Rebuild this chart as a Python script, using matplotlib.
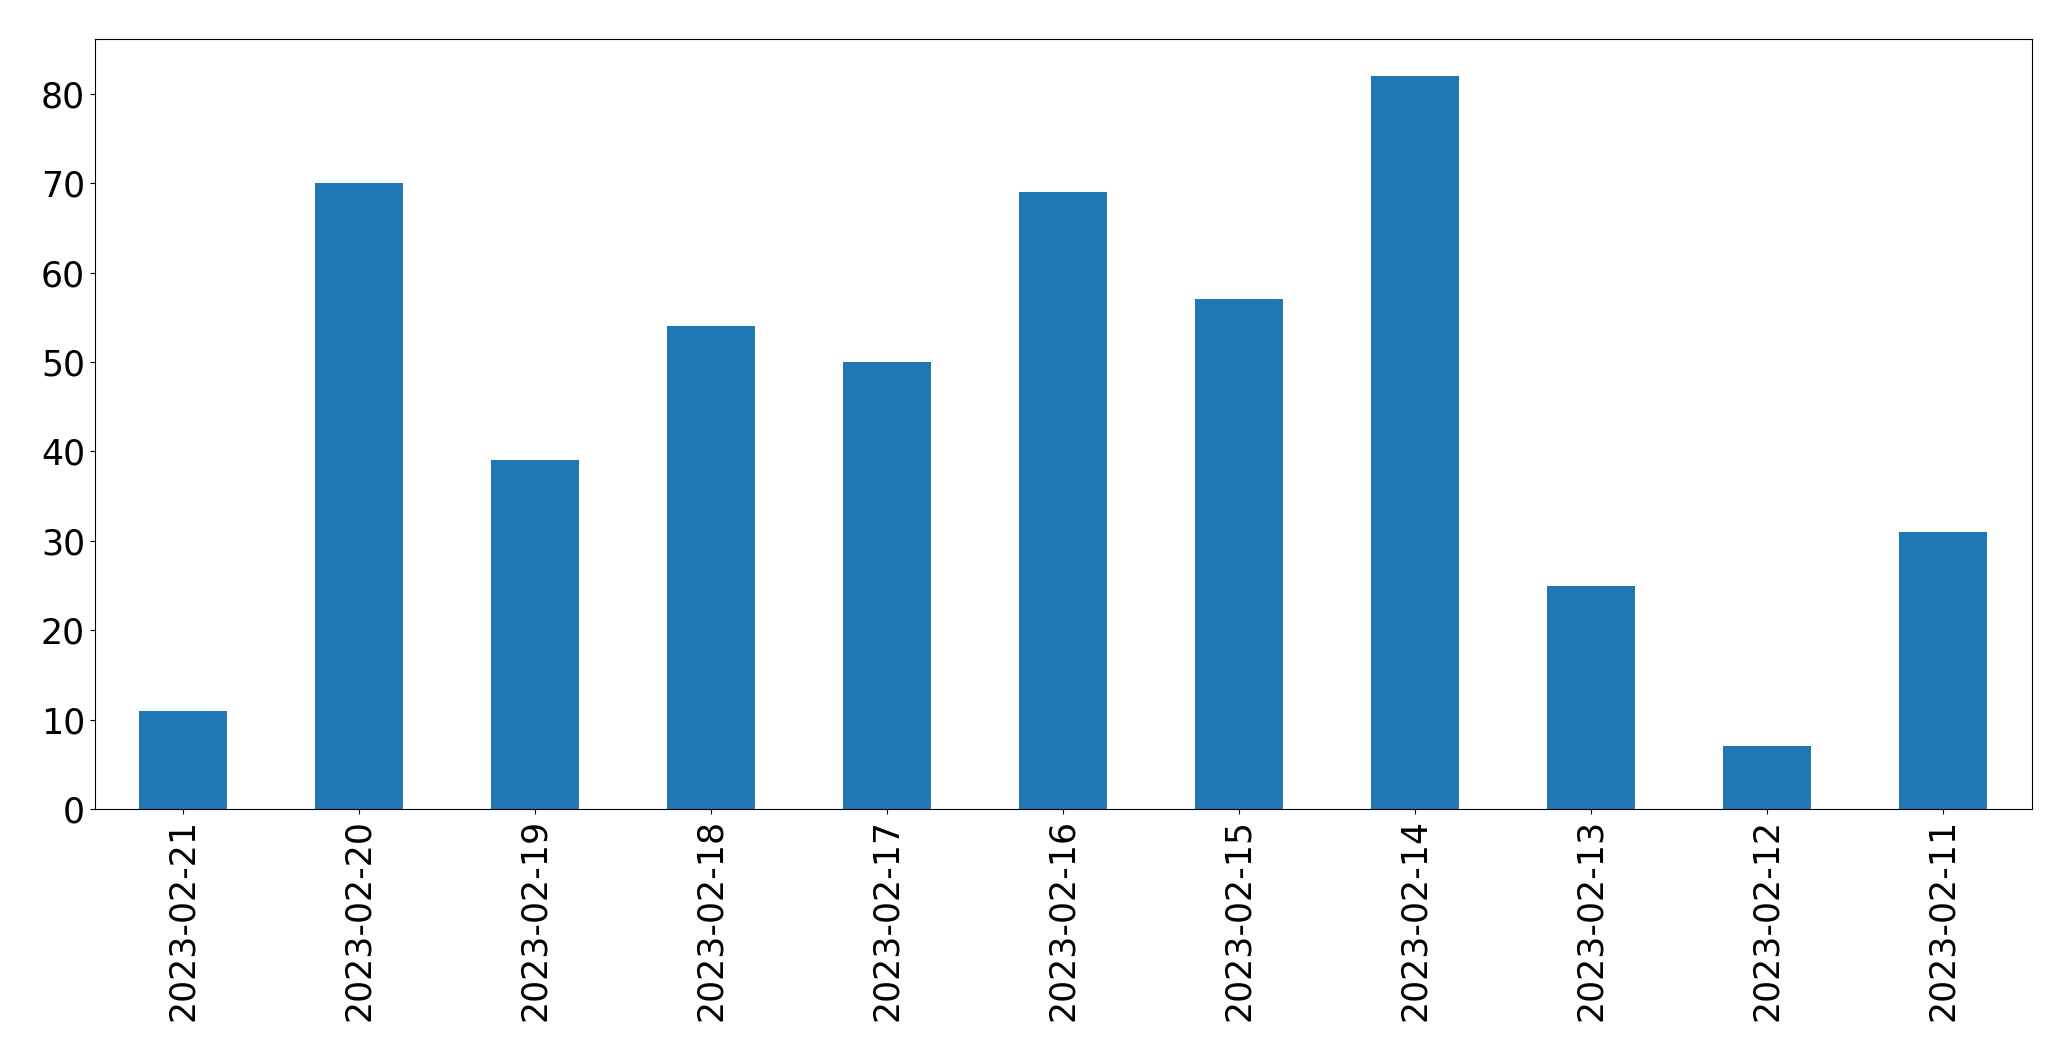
import matplotlib
matplotlib.use("Agg")
import matplotlib.pyplot as plt

dates = ["2023-02-21", "2023-02-20", "2023-02-19", "2023-02-18", "2023-02-17",
         "2023-02-16", "2023-02-15", "2023-02-14", "2023-02-13", "2023-02-12",
         "2023-02-11"]
counts = [11, 70, 39, 54, 50, 69, 57, 82, 25, 7, 31]

fig = plt.figure(figsize=(20.71, 10.61), dpi=100)
ax = fig.add_axes([94.7 / 2071, 1 - 809 / 1061, (2031.5 - 94.7) / 2071, (809 - 39.3) / 1061])

x = list(range(len(dates)))
ax.bar(x, counts, width=0.5, color="#1f77b4")
ax.set_xlim(-0.5, len(dates) - 0.5)
ax.set_ylim(0, max(counts) * 1.05)
ax.set_xticks(x)
ax.set_xticklabels(dates, rotation=90)
ax.tick_params(axis="both", labelsize=25)

plt.savefig("out.png", dpi=100)
